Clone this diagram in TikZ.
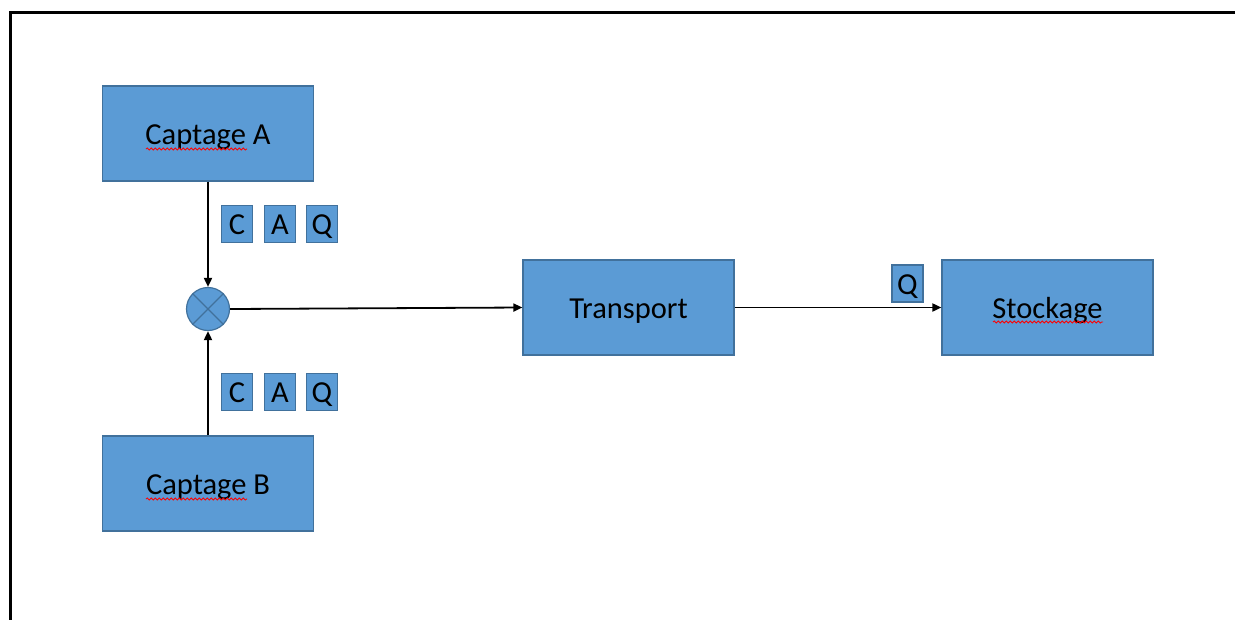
\documentclass[tikz,border=0pt]{standalone}
\usepackage{fontspec}
\setmainfont{Carlito}
\usetikzlibrary{arrows.meta,decorations.pathmorphing}
\definecolor{boxfill}{HTML}{5B9BD5}
\definecolor{boxline}{HTML}{41719C}
\tikzset{
  block/.style={draw=boxline, line width=1.2pt, fill=boxfill, minimum width=211pt, minimum height=95pt, inner sep=0pt, text height=22pt, text depth=0pt, font=\fontsize{30.5}{36}\selectfont},
  tag/.style={draw=boxline, line width=1.2pt, fill=boxfill, minimum width=31pt, minimum height=37pt, inner sep=0pt, text height=21.5pt, text depth=0pt, font=\fontsize{30.5}{36}\selectfont},
  flow/.style={line width=1.8pt, -{Triangle[length=9pt,width=8pt]}},
  wavy/.style={red, line width=0.8pt, decorate, decoration={snake, amplitude=1.1pt, segment length=4pt}}
}
\begin{document}
\begin{tikzpicture}[x=1pt,y=-1pt]
\useasboundingbox (0,0) rectangle (1235,619);
\begin{scope}
\clip (0,0) rectangle (1235,619);
\draw[line width=2.6pt] (10.5,640) -- (10.5,12.5) -- (1260,12.5);
\end{scope}

\node[block] (ca) at (208,133.5) {Captage A};
\node[block] (cb) at (208,483.5) {Captage B};
\node[block] (tr) at (628.5,307.5) {Transport};
\node[block] (st) at (1047.5,307.5) {Stockage};

\node[circle, draw=boxline, line width=1.2pt, fill=boxfill, minimum size=43pt, inner sep=0pt] (mx) at (208,309) {};
\draw[boxline, line width=1.2pt] (mx.45) -- (mx.225) (mx.135) -- (mx.315);

\node[tag] (c1) at (237,224) {C};
\node[tag] (a1) at (280,224) {A};
\node[tag] (q1) at (322,224) {Q};
\node[tag] (c2) at (237,392) {C};
\node[tag] (a2) at (280,392) {A};
\node[tag] (q2) at (322,392) {Q};
\node[tag] (q3) at (907.5,283.5) {Q};

\draw[flow] (ca.south) -- (mx.north);
\draw[flow] (cb.north) -- (mx.south);
\draw[flow] (mx.east) -- (tr.west);
\draw[flow] (tr.east) -- (st.west);

\draw[wavy] (146,149) -- (247,149);
\draw[wavy] (146,499) -- (247,499);
\draw[wavy] (993,322) -- (1103,322);
\end{tikzpicture}
\end{document}
